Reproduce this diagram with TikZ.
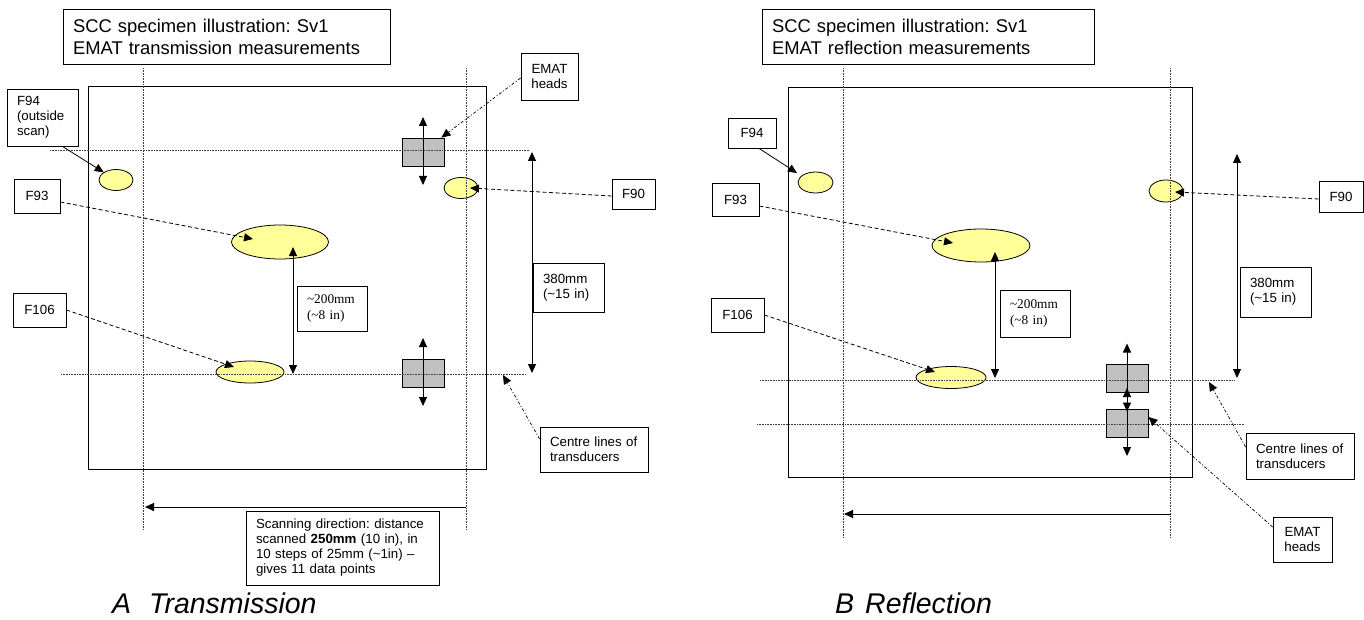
\documentclass[tikz,border=0pt]{standalone}
\usepackage{fontspec}
\setmainfont{Liberation Sans}
\newfontfamily\timesfont{Liberation Serif}
\usetikzlibrary{arrows.meta,shapes.geometric}
\frenchspacing

\definecolor{flawyellow}{HTML}{FFFF99}
\definecolor{headgray}{HTML}{C0C0C0}
\newcommand{\labelfont}{\fontsize{13.3}{14.8}\selectfont}
\newcommand{\titlefont}{\fontsize{18.4}{22}\selectfont}
\newcommand{\capfont}{\fontsize{28.5}{30}\selectfont\itshape}

\tikzset{
  tag/.style={draw, fill=white, line width=0.8pt, inner xsep=10pt, inner ysep=0pt,
    font=\labelfont, align=left},
  tagc/.style={tag, align=center},
  flaw/.style={ellipse, draw, fill=flawyellow, line width=0.8pt, inner sep=0pt},
  emat/.style={draw, fill=headgray, line width=0.8pt, inner sep=0pt,
    minimum width=42pt, minimum height=28pt},
  specimen/.style={draw, line width=1pt},
  centreline/.style={black!75, line width=0.6pt, dash pattern=on 0.8pt off 0.8pt},
  pointtip/.style={-{Triangle[length=9pt,width=8pt]}},
  dimline/.style={{Triangle[length=9pt,width=8pt]}-{Triangle[length=9pt,width=8pt]},
    line width=0.9pt},
  pointer/.style={pointtip, line width=0.8pt, dash pattern=on 4pt off 2.5pt},
  dashdotarrow/.style={pointtip, line width=0.7pt,
    dash pattern=on 3pt off 2pt on 1pt off 2pt},
}

\begin{document}
\begin{tikzpicture}[x=1pt,y=-1pt]
  \useasboundingbox (0,0) rectangle (1364,620);

  % ---------------- A: transmission ----------------
  \draw[specimen] (88,87) rectangle (486,469);

  \node[flaw, minimum width=34pt, minimum height=21pt] (e94A) at (116,180) {};
  \node[flaw, minimum width=97pt, minimum height=34pt] (e93A) at (280,242) {};
  \node[flaw, minimum width=68pt, minimum height=22pt] (e106A) at (250,372) {};
  \node[flaw, minimum width=34pt, minimum height=21pt] (e90A) at (461,188) {};

  \node[emat] (headA1) at (423,152) {};
  \node[emat] (headA2) at (423,373) {};

  % centre lines of transducers
  \draw[centreline] (143.5,68) -- (143.5,530);
  \draw[centreline] (466,68) -- (466,530);
  \draw[centreline] (50,150) -- (529,150);
  \draw[centreline] (61,374) -- (526,374);

  \node[tag, text width=307pt, minimum height=55pt, font=\titlefont] (titleA) at (226.5,36.5)
    {SCC specimen illustration: Sv1\\EMAT transmission measurements};
  \node[tag, text width=51pt, minimum height=57pt] (f94A) at (42.5,117.5) {F94\\(outside\\scan)};
  \node[tagc, text width=26pt, minimum height=34pt] (f93A) at (37,196) {F93};
  \node[tagc, text width=33pt, minimum height=34pt] (f106A) at (39.5,310) {F106};
  \node[tagc, text width=23pt, minimum height=30pt] (f90A) at (633.5,194) {F90};
  \node[tagc, text width=37pt, minimum height=47pt] (headsA) at (549.5,76.5) {EMAT\\heads};
  \node[tag, text width=50pt, minimum height=45pt, font={\fontsize{13.3}{16}\selectfont\timesfont}]
    (dim200A) at (332,308.5) {\textasciitilde200mm\\(\textasciitilde8 in)};
  \node[tag, text width=51pt, minimum height=49pt, font={\fontsize{13.3}{15}\selectfont}]
    (dim380A) at (568.5,287.5) {380mm\\(\textasciitilde15 in)};
  \node[tag, text width=88pt, minimum height=45pt] (centreA) at (594,449.5)
    {Centre lines of\\transducers};
  \node[tag, text width=173pt, minimum height=74pt, font={\fontsize{13.3}{15}\selectfont}]
    (scanA) at (342.5,548)
    {Scanning direction: distance\\scanned \textbf{250mm} (10 in), in\\10 steps of 25mm (\textasciitilde1in) --\\gives 11 data points};

  \coordinate (d200Atop) at (293,247);
  \coordinate (d200Abot) at (293,374);
  \coordinate (d380Atop) at (532,152);
  \coordinate (d380Abot) at (532,373);
  \coordinate (clA) at (503,375);
  \coordinate (scanAstart) at (466,507);
  \coordinate (scanAend) at (145,507);

  \draw[pointtip, line width=0.8pt] ([xshift=-16pt]f94A.south east) -- (e94A.north west);
  \draw[pointer] ([yshift=-6pt]f93A.east) -- ([xshift=-27pt,yshift=3pt]e93A.center);
  \draw[pointer] (f106A.east) -- ([xshift=-16pt,yshift=5pt]e106A.center);
  \draw[pointer] ([yshift=-2pt]f90A.west) -- ([xshift=9pt]e90A.center);
  \draw[dashdotarrow] ([yshift=-1.5pt]headsA.west) -- ([xshift=-3pt]headA1.north east);
  \draw[dashdotarrow] ([yshift=10.5pt]centreA.west) -- (clA);
  \draw[dimline] (d200Atop) -- (d200Abot);
  \draw[dimline] (d380Atop) -- (d380Abot);
  \draw[dimline] ([yshift=35pt]headA1.center) -- ([yshift=-33pt]headA1.center);
  \draw[dimline] ([yshift=35pt]headA2.center) -- ([yshift=-33pt]headA2.center);
  \draw[pointtip, line width=0.9pt] (scanAstart) -- (scanAend);

  \node[font=\capfont, anchor=base west, inner sep=0pt] (capA) at (112,613)
    {A\hspace{18pt}Transmission};

  % ---------------- B: reflection ----------------
  \draw[specimen] (788,88) rectangle (1192,477);

  \node[flaw, minimum width=35pt, minimum height=21pt] (e94B) at (815.5,182.5) {};
  \node[flaw, minimum width=98pt, minimum height=33pt] (e93B) at (981,245.5) {};
  \node[flaw, minimum width=70pt, minimum height=22pt] (e106B) at (951,377.5) {};
  \node[flaw, minimum width=34pt, minimum height=22pt] (e90B) at (1166,191) {};

  \node[emat] (headB1) at (1127,378.5) {};
  \node[emat] (headB2) at (1127,423) {};

  % centre lines of transducers
  \draw[centreline] (843.5,68) -- (843.5,538);
  \draw[centreline] (1170.5,68) -- (1170.5,538);
  \draw[centreline] (760,380) -- (1234,380);
  \draw[centreline] (757,424) -- (1244,424);

  \node[tag, text width=312pt, minimum height=55pt, font=\titlefont] (titleB) at (928,36.5)
    {SCC specimen illustration: Sv1\\EMAT reflection measurements};
  \node[tagc, text width=28pt, minimum height=30pt] (f94B) at (752,133) {F94};
  \node[tagc, text width=27pt, minimum height=33pt] (f93B) at (735.5,199.5) {F93};
  \node[tagc, text width=33pt, minimum height=34pt] (f106B) at (737.5,315) {F106};
  \node[tagc, text width=24pt, minimum height=31pt] (f90B) at (1341,196.5) {F90};
  \node[tag, text width=50pt, minimum height=47pt, font={\fontsize{13.3}{16}\selectfont\timesfont}]
    (dim200B) at (1035,313.5) {\textasciitilde200mm\\(\textasciitilde8 in)};
  \node[tag, text width=51pt, minimum height=50pt, font={\fontsize{13.3}{15}\selectfont}]
    (dim380B) at (1275.5,292) {380mm\\(\textasciitilde15 in)};
  \node[tag, text width=88pt, minimum height=46pt] (centreB) at (1300,456)
    {Centre lines of\\transducers};
  \node[tagc, text width=39pt, minimum height=45pt] (headsB) at (1302.5,539.5) {EMAT\\heads};

  \coordinate (d200Btop) at (995,252);
  \coordinate (d200Bbot) at (995,378);
  \coordinate (d380Btop) at (1237,154);
  \coordinate (d380Bbot) at (1237,378);
  \coordinate (clB) at (1209,382);
  \coordinate (scanBstart) at (1171,514);
  \coordinate (scanBend) at (844,514);

  \draw[pointtip, line width=0.8pt] ([xshift=7pt]f94B.south) -- ([xshift=-18.5pt,yshift=9.5pt]e94B.center);
  \draw[pointer] ([yshift=-6.5pt]f93B.east) -- ([xshift=-28pt,yshift=2.5pt]e93B.center);
  \draw[pointer] (f106B.east) -- ([xshift=-16pt,yshift=5.5pt]e106B.center);
  \draw[pointer] ([yshift=-2.5pt]f90B.west) -- ([xshift=9pt,yshift=-1pt]e90B.center);
  \draw[dashdotarrow] ([yshift=9pt]centreB.west) -- (clB);
  \draw[dashdotarrow] ([yshift=12.5pt]headsB.west) -- ([yshift=6pt]headB2.east);
  \draw[dimline] (d200Btop) -- (d200Bbot);
  \draw[dimline] (d380Btop) -- (d380Bbot);
  \draw[dimline] ([yshift=35pt]headB1.center) -- ([yshift=-33pt]headB1.center);
  \draw[dimline] ([yshift=35pt]headB2.center) -- ([yshift=-33pt]headB2.center);
  \draw[pointtip, line width=0.9pt] (scanBstart) -- (scanBend);

  \node[font=\capfont, anchor=base west, inner sep=0pt] (capB) at (835,613)
    {B\hspace{11pt}Reflection};
\end{tikzpicture}
\end{document}
